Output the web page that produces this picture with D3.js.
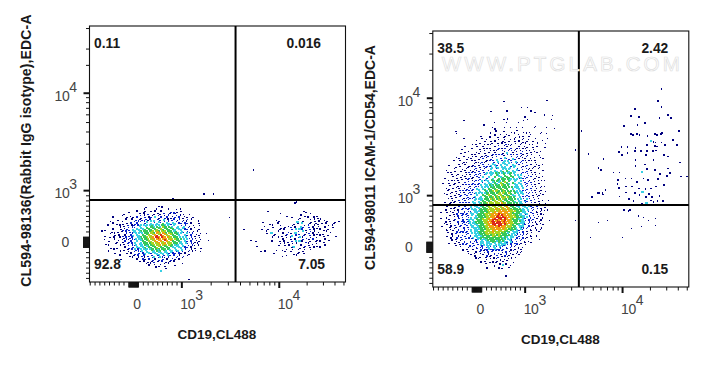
<!DOCTYPE html>
<html>
<head>
<meta charset="utf-8">
<script src="https://cdn.jsdelivr.net/npm/d3@7"></script>
<style>
body { margin: 0; background: #fff; }
text { font-family: "Liberation Sans", Arial, sans-serif; }
</style>
</head>
<body>
<div id="chart"></div>
<script>
// quadrant percentages: UL, UR, LL, LR
const leftQuadrants = ["0.11", "0.016", "92.8", "7.05"];
const rightQuadrants = ["38.5", "2.42", "58.9", "0.15"];

const xTitle = "CD19,CL488";
const leftYTitle = "CL594-98136(Rabbit IgG isotype),EDC-A";
const rightYTitle = "CL594-98011 ICAM-1/CD54,EDC-A";

// gate positions in fluorescence units
const xGate = 3600;
const yGate = 808;

// ticks in fluorescence units
const xMajor = [1000, 10000];
const yMajor = [1000, 10000];
const zeroBand = [-100, -90, -80, -70, -60, -50, -40, -30, -20, -10, 0, 10, 20, 30, 40, 50, 60, 70, 80, 90, 100];
const xMinor = [-900, -800, -700, -600, -500, -400, -300, -200, 200, 300, 400, 500, 600, 700, 800, 900,
    2000, 3000, 4000, 5000, 6000, 7000, 8000, 9000, 20000, 30000, 40000, 50000];
const yMinor = [-700, -600, -500, -400, -300, -200, 200, 300, 400, 500, 600, 700, 800, 900,
    2000, 3000, 4000, 5000, 6000, 7000, 8000, 9000, 20000, 30000, 50000];

// density classes for the event bins (digit in the rows below)
const binColors = ["none", "#00007f", "#0a22cc", "#38cfe4", "#34c85a", "#a8d422", "#f0a010", "#dc2a1a"];

// binned events, one digit per bin. origin is in display channels
const leftMainOrigin = [2.168, 2.856];
const leftMainRows = [
    ".............................1",
    "......................1.......1",
    ".....................1.....1.....1...1.1",
    "..............1...1...1..1.1..1....2..1.1",
    "...........1.......1.1.2..1.11.2..1.21...1..1",
    "..........1...1..1.2.1.1.12.21.1.2.1.2.1.1",
    "......1......1..1.2.1.2.12.3.12.22.1.2.2.1.1..1",
    "........1...1..1.2.12.212.3.22.3.1.22.12.1.2.1",
    "....1.....1...1.2.22.23.3.2.32.232.3.22.2.1.1...1",
    "......1.1..1.1.2.22.3.23.33.33.43.32.3.22.22.1...1",
    "...1.....1.1.2.12.23.33.3433.34443.33.3.232.1.1..1",
    ".....1...1.1.2.223.33.43444444543444.33.32.21.1",
    "..1...1...12.22.33.3434444545454544443.33.22.1...1",
    "1....1..1.1.2.2.33.33444454565554444343.32.22.1.1",
    "....1.1.1..12.22.33.34445556566655544443.33.22.1.1..1",
    "..1....1.1.21.223.3344455566767665554443.332.2.1.1",
    "....1.1..1.12.22.33344455667767666554443.33.22.1.1",
    ".1....1.1.1.21.22.3344455566676765655444.33.22.1.1...1",
    "....1...1..12.22.33.344455566665665544443.32.2.1.1",
    "..1....1...1.2.2.3.3344445555656555444333.32.21.1",
    "...1.....1.1.2.223.33434445555544544333.33.2.21.1",
    ".....1..1...1.2.23.3334344445444444.33.33.22.1.1..1",
    "......1....1.1.2.22.333.343434443433.33.3.2.21.1",
    "...1.....1...12.2.223.33.33433.33.33.22.22.1.1...1",
    ".......1.....1.1.2.2.23.32.333.3.32.22.21.1.1",
    ".........1....1.1.2.22.2.23.23.2.32.2.21.2.1",
    "...............1..1.21.2.22.2.21.2.2.21.1",
    "..........1.......1..21.2.21.2.2.1.2.1.1",
    "...................1.1.1.12.1.2.1.1.1",
    "......................1.1.1..1.1.1......1",
    "........................1....1..1....1",
    "...........................1....1",
    "",
    "..............................3"
];

const leftSideOrigin = [3.606, 2.938];
const leftSideRows = [
    "", "", "",
    "...........................1",
    "", "", "",
    ".............1.................11",
    "...................1..............1",
    ".......................1......1.1.....1",
    ".........................1...1...1..1.1",
    ".................1..........1.....1.1..1.1",
    "...........1.......1........3..1...1.1.1...1...1.1",
    "..............1...1.......1.1.3...1..11.1.1...1",
    "...........1...1...1...1.1...3.1.2..1.1..1.1.1",
    "................1...1.1..2.1.3.2..2.1.1...1...1",
    ".1........1..1.....1.1...2.3..2.1.2.1..1.1.1",
    "............1.1...1.1..2..3.2.3.1.2.1.1...1.1",
    ".............1.3.1...1.2.1.3.2..1.2.1.1..1",
    "................1...1.1..3.2.3.2..2.1..1.1.1...1",
    "...............1..1.1.1.2.1.2.1.2.1..1...1",
    ".....1...............1...1.1.3.2..1.2.1...1.1",
    ".......1.......1...1.1.1.2.3..1.2.1..1.1.1",
    "...................1.1...1.1.2...1.1.1",
    "........1..........1..1.1.3...1.2.1...1...1",
    ".........................1...1.1..1.1..1",
    ".................1..1.1..1..1..1..1",
    "..........1.1.........1..1...1.1",
    "................1.........1.1..1",
    "....................1.1....1"
];

const rightMainOrigin = [2.134, 4.058];
const rightMainRows = [
    "", "", "",
    ".....................................................1",
    "...............................1",
    "", "",
    "........................................1..1",
    "",
    ".........................1.......1...........1.1",
    "",
    "...................................................1...1",
    "..........................................1",
    "...........1...................1.1.......1.1...........1",
    "..........................1.....1.....1",
    "",
    ".....................1.........................1",
    ".........................1.....1..1..1..1.....1.....1...1",
    "...........................1..........1",
    ".......1...................1...1...1.....1..1.....1",
    ".......1................1....1..1...1.1...1.1....1..1",
    "....................1......1....1.1......1..1",
    "...........1........1...1...1..1.....1.1.1.....1.....1",
    ".................1....1...1.1..1..1.1...1..1......1",
    "......................1..1.1...11.1..1.1.1.1..1",
    ".................1.1...1.1..1.1.2..1.1..1.1.1...1...1",
    "...............1.....1..1.1.2..1.11...21.1...1.1",
    "............1.....1..1.1...1.2..21.2..11.1.1..1.1...1",
    "..........1....1...1.1..1.1.2.1...12.1.2..1.1.1",
    ".............1...1.1.1..1.21..21.2..21.12.1...1..1",
    "..........1.1....1.1..1.1.21.2.1.3.21.2.21.1.1..1",
    "...........1...1.1..1.12.1.2..21.2.21.2.1..1.1...1",
    ".......1.....1.1...1.21..1.2.2.32..3.2.21.2.1.1..1",
    ".........1...1.1.1.1.2.1.22.3.2.3.22.2.1.21.1..1...1",
    "......1..1.1...1.1..2.1.2.2.3.23.3.2.32.2.1..1.1",
    "........1.1.1...1.12.1.2.32.2.33.3.3.2.22.1.1..1..1",
    "....1....1..1.1.12.1.2.2.3.32.3.33.2.3.2.1.2.1.1.1",
    ".......1.1...1.1.2.1.22.23.33.333.3.3.2.2.2.1.1..1",
    "..1...1...1.1.1.21.2.1.23.32.33.43.3.32.2.21.1..1",
    ".....1.1..1.1.2.12.2.2.3.33.34.43.34.3.2.2.2.1.1...1",
    "...1.1..1...1.12.2.2.23.33.43.34.34.3.3.2.22.1.1.1",
    ".....1.1..1.1.2.2.22.2.33.3434.44.433.33.2.2.1.1..1",
    "..1...1.1.1.1.2.1.22.3.23.34.4344.434.3.32.2.2.1.1",
    ".....1..1.1.12.1.2.23.33.44.4344.43.33.2.22.1.1...1",
    "...1..1.1..1.2.12.2.22.3.334344544.43.33.2.22.1.1..1",
    ".1..1..1.1.12.2.22.23.33.3443454443.433.3.22.2.1.1",
    "....1.1.1...2.12.22.3.334344445444.4.33.3.22.2.1..1",
    "..1..1.1.2.1.22.2.2.33.34454454444.4333.3.2.22.1.1.1",
    "....1.1..1.2.22.2.33.3434454544544.43.33.2.2.2.1..1",
    "...1.1.1.2.12.22.3.33.4444454545444.43333.2.22.1.1..1",
    ".1..1..1.2.2.2.22.3.33444454545445444.333.22.2.1.1",
    "...1.1.1.12.22.2.33.344454545454544433.3.2.22.1..1.1",
    ".....1.1.2.1.22.23.33.444454545545444.33.22.2.1.1",
    "...1.1..1.2.22.23.3344445454555454444.33.33.2.2.1.1..1",
    "..1..1.1.2.22.2.33.34445455555545444.3433.22.2.1.1",
    "....1.1..2.22.2.33.344445555556554444.333.2.22.1.1..1",
    ".1.1..1.2.2.2.2.3.33444455555655554443.33.33.2.2.1.1",
    "...1.1.1.2.22.23.33344445555565656544443.333.22.2.1.1",
    "..1...1.1.2.22.333.44445555656565655444433.3.22.2.1..1",
    "....1.1.2..2.22.33344445556566666655544433.2.2.1.1.1",
    "1..1..1.2.22.2.33.34445556666766665544443.33.22.1.1",
    "....1.1.2.2.22.3.34444555666767666555443332.2.2.1..1",
    "..1...1.1.2.223.3344445566677777665554443.3.2.2.1.1",
    "1...1..2.2.2.2333.4445556677767676654443332.2.2.1.1",
    "..1.1.1.2.22.23.3444455667767767665544.4332.22.1.1....1",
    ".1..1...1.2.22.334444556677777676655444332.2.1.1.1",
    "...1.1.2..2.22.33.34445566676776655544.3332.2.1.1..1",
    "1...1..1.2.2.2.33334445566666666555443.322.2.1.1..1",
    "..1.1.1.2..2.23.3334445556666565544443.32.2.1..1.1",
    "...1..1.2.22.2.3.334445555655555444.3332.2.1.1...1",
    "...1.1.2.2..22.3.33444555555554443.33.22.2.1.1",
    ".....1..1.2.2.2.3333444445545444443.32.22.1.1..1",
    "...1.1..2.2.2.2.3.3344444444444343.33.22.2.1.1",
    ".....1.1..2.2..2.23.333444444443.332.2.22.1..1...1",
    ".......1.1.2..2.22.33.33444343433.32.2.2.1.1",
    "....1..1.1.2.2..2.2.33.333.3.33332.2.22.1.1..1",
    ".......1.1..2.2.2.2.23.33.33.332.2.2.2.1..1",
    ".........1...1.2.2.22.232.32.22.2.2.1.1.1",
    "...........1.1..1.2.2.22.22.22.2.2.1.1..1",
    ".............1...1.2.1.2.2.2..2.2.1.2.1.1",
    ".............1..1..1.2.1..2.2.1.2.1..1.1",
    "...............1.1...1.2.1..2.1.2.1.1..1",
    ".................1.1..1.1.1.2.1..1.1.1",
    "..................1...1.1..1.1.1.1",
    "....................1.1...1.1..1.1",
    "......................1.1..1.1..1...1",
    "..........................1...3...1",
    ".......................1.....1....1",
    "..............................1",
    "", "",
    "................................1"
];

const rightSideOrigin = [3.677, 4.177];
const rightSideRows = [
    "", "", "",
    "...................................1",
    "", "", "", "", "", "",
    ".................................1",
    "",
    "...................................1",
    "",
    ".....................1",
    "",
    "......................................1",
    "...................1...1",
    "..................................1.....1",
    "",
    "..........................1",
    ".......................1",
    "................1",
    "",
    "............................................1",
    "...................................1",
    "...................11.1........11.1",
    "........................1...1",
    "",
    ".............................3..........1",
    "...............................11..1",
    "",
    "...........................1...11...1.....1",
    "...............1..1...1",
    "................................1",
    ".............1.......1..1..1..1",
    "..................1",
    "...............1...........1........1.1",
    "",
    "......1...............1........1",
    "............................................1",
    "..........................1",
    "......................1",
    "......................................1",
    "....1......................1...1",
    "...........1..1..........3",
    "..................................1....1",
    ".....................................1......1..1",
    ".................1..1.....1",
    ".............1..............1....1",
    "......................1",
    ".............1",
    ".................1..1...........1...1",
    ".............1.........1.....1",
    ".......1...................1",
    ".................1.......3",
    "...1.1...............1......1",
    "..............1.........1.........1",
    "1..........................1..1",
    "..................1..........1",
    ".....................1.........1.1..1",
    ".........................1.3",
    "", "",
    "................1..1"
];

// single stray events in display channels
const leftStrayX = [2.907, 3.165, 3.227, 3.32, 3.485, 3.072, 3.732, 4.175];
const leftStrayY = [2.918, 2.908, 2.969, 2.969, 2.724, 2.089, 3.215, 2.887];
const rightStrayX = [3.512, 3.512, 3.667, 3.997, 3.75, 3.842, 4.059, 4.162, 4.213, 4.265, 4.337, 4.337, 4.193, 4.09, 3.574, 3.646, 3.75, 3.791, 3.739];
const rightStrayY = [3.471, 2.744, 2.57, 2.57, 2.724, 2.744, 2.846, 2.795, 2.775, 2.744, 2.765, 2.693, 2.683, 2.662, 3.665, 3.43, 3.287, 3.031, 3.031];

const width = 709;
const height = 367;
const plotSize = 256;
const gridStep = 0.0205;

// display transform: linear near zero, log above 1000
function biex(v, slope) {
    if (v >= 10000) return 4 + 0.95 * Math.log10(v / 10000);
    if (v >= 1000) return Math.log10(v);
    return 3 + (v - 1000) / 1000 * slope;
}
const biexX = v => biex(v, 0.495);
const biexY = v => biex(v, 0.53);

const xScale = d3.scaleLinear().domain([2.057, 4.685]).range([0, plotSize]);
const yScale = d3.scaleLinear().domain([2.057, 4.685]).range([plotSize, 0]);

const svg = d3.select("#chart")
    .append("svg")
    .attr("width", width)
    .attr("height", height)
    .style("display", "block");

function drawBins(g, rows, origin) {
    rows.forEach(function (row, r) {
        for (let c = 0; c < row.length; c++) {
            const k = +row[c];
            if (!k) continue;
            const size = k < 3 ? 1.5 : 2.2;
            // stagger the lattice a little so it does not read as a hatch
            const cx = origin[0] + (c + (r % 3) * 0.4) * gridStep;
            const cy = origin[1] - (r + (c % 3) * 0.4) * gridStep;
            g.append("rect")
                .attr("x", xScale(cx))
                .attr("y", yScale(cy))
                .attr("width", size)
                .attr("height", size)
                .attr("fill", binColors[k]);
        }
    });
}

function drawStray(g, xs, ys) {
    xs.forEach(function (v, i) {
        g.append("rect")
            .attr("x", xScale(v))
            .attr("y", yScale(ys[i]))
            .attr("width", 1.4)
            .attr("height", 1.4)
            .attr("fill", binColors[1]);
    });
}

function tickLayer(g, axis, values, size, strokeW) {
    const layer = g.append("g").call(axis.tickValues(values).tickSize(size).tickFormat(""));
    layer.select(".domain").remove();
    layer.selectAll("line").attr("stroke", "#111").attr("stroke-width", strokeW);
    return layer;
}

function powerLabel(g, x, y, power) {
    const t = g.append("text")
        .attr("x", x)
        .attr("y", y)
        .attr("font-size", 14)
        .attr("letter-spacing", -0.4)
        .attr("fill", "#444");
    t.append("tspan").text("10");
    t.append("tspan").attr("dy", -9).attr("font-size", 14).text(power);
}

function drawPanel(left, top, quadrants, urRight, yTitle, yTitleMid, yTitleX, yTitleSpacing, binLayers, strayX, strayY) {
    const g = svg.append("g").attr("transform", `translate(${left}, ${top})`);

    // events
    const events = g.append("g").attr("shape-rendering", "crispEdges");
    binLayers.forEach(function (layer) { drawBins(events, layer[0], layer[1]); });
    drawStray(events, strayX, strayY);

    // frame
    g.append("rect")
        .attr("width", plotSize)
        .attr("height", plotSize)
        .attr("fill", "none")
        .attr("stroke", "#111")
        .attr("stroke-width", 1.1);

    // gates
    g.append("line")
        .attr("x1", xScale(biexX(xGate))).attr("x2", xScale(biexX(xGate)))
        .attr("y1", 0).attr("y2", plotSize)
        .attr("stroke", "#000").attr("stroke-width", 2);
    g.append("line")
        .attr("x1", 0).attr("x2", plotSize)
        .attr("y1", yScale(biexY(yGate))).attr("y2", yScale(biexY(yGate)))
        .attr("stroke", "#000").attr("stroke-width", 2);

    // x ticks
    const xAxisG = g.append("g").attr("transform", `translate(0, ${plotSize})`);
    tickLayer(xAxisG, d3.axisBottom(xScale), xMinor.map(biexX), 3.5, 1);
    tickLayer(xAxisG, d3.axisBottom(xScale), xMajor.map(biexX), 6, 2);
    tickLayer(xAxisG, d3.axisBottom(xScale), zeroBand.map(biexX), 5.5, 1);

    // y ticks
    const yAxisG = g.append("g");
    tickLayer(yAxisG, d3.axisLeft(yScale), yMinor.map(biexY), 3.5, 1);
    tickLayer(yAxisG, d3.axisLeft(yScale), yMajor.map(biexY), 6, 2);
    tickLayer(yAxisG, d3.axisLeft(yScale), zeroBand.map(biexY), 6.5, 1);

    // tick labels
    g.append("text")
        .attr("x", xScale(biexX(0)) + 4)
        .attr("y", plotSize + 27)
        .attr("text-anchor", "middle")
        .attr("font-size", 14)
        .attr("fill", "#444")
        .text("0");
    powerLabel(g, xScale(biexX(1000)) - 1, plotSize + 27, "3");
    powerLabel(g, xScale(biexX(10000)) - 1, plotSize + 27, "4");
    g.append("text")
        .attr("x", -24)
        .attr("y", yScale(biexY(0)) + 5)
        .attr("text-anchor", "middle")
        .attr("font-size", 14)
        .attr("fill", "#444")
        .text("0");
    powerLabel(g, -35, yScale(biexY(1000)) + 8, "3");
    powerLabel(g, -35, yScale(biexY(10000)) + 8, "4");

    // quadrant labels
    const quadX = [4.5, urRight, 4.5, 235.5];
    const quadY = [22, 22, 243, 243];
    const quadAnchor = ["start", "end", "start", "end"];
    quadrants.forEach(function (q, i) {
        g.append("text")
            .attr("x", quadX[i])
            .attr("y", quadY[i])
            .attr("text-anchor", quadAnchor[i])
            .attr("font-size", 13.8)
            .attr("font-weight", "bold")
            .attr("fill", "#1a1a1a")
            .text(q);
    });

    // axis titles
    g.append("text")
        .attr("x", 127.5)
        .attr("y", 313)
        .attr("text-anchor", "middle")
        .attr("font-size", 13.5)
        .attr("font-weight", "bold")
        .attr("fill", "#1a1a1a")
        .text(xTitle);
    g.append("text")
        .attr("transform", `translate(${yTitleX}, ${yTitleMid}) rotate(-90)`)
        .attr("text-anchor", "middle")
        .attr("font-size", 14)
        .attr("letter-spacing", yTitleSpacing)
        .attr("font-weight", "bold")
        .attr("fill", "#1a1a1a")
        .text(yTitle);
    return g;
}

drawPanel(89.5, 26, leftQuadrants, 231.5, leftYTitle, 124.5, -58.5, 0.15, [
    [leftMainRows, leftMainOrigin],
    [leftSideRows, leftSideOrigin]
], leftStrayX, leftStrayY);

const rightPanel = drawPanel(432.8, 31, rightQuadrants, 235.5, rightYTitle, 126.5, -58, 0, [
    [rightMainRows, rightMainOrigin],
    [rightSideRows, rightSideOrigin]
], rightStrayX, rightStrayY);

// watermark
rightPanel.append("text")
    .attr("x", 9)
    .attr("y", 40)
    .attr("font-size", 20.5)
    .attr("textLength", 238)
    .attr("fill", "#fff")
    .attr("stroke", "#dedede")
    .attr("stroke-width", 0.7)
    .text("WWW.PTGLAB.COM");
</script>
</body>
</html>
